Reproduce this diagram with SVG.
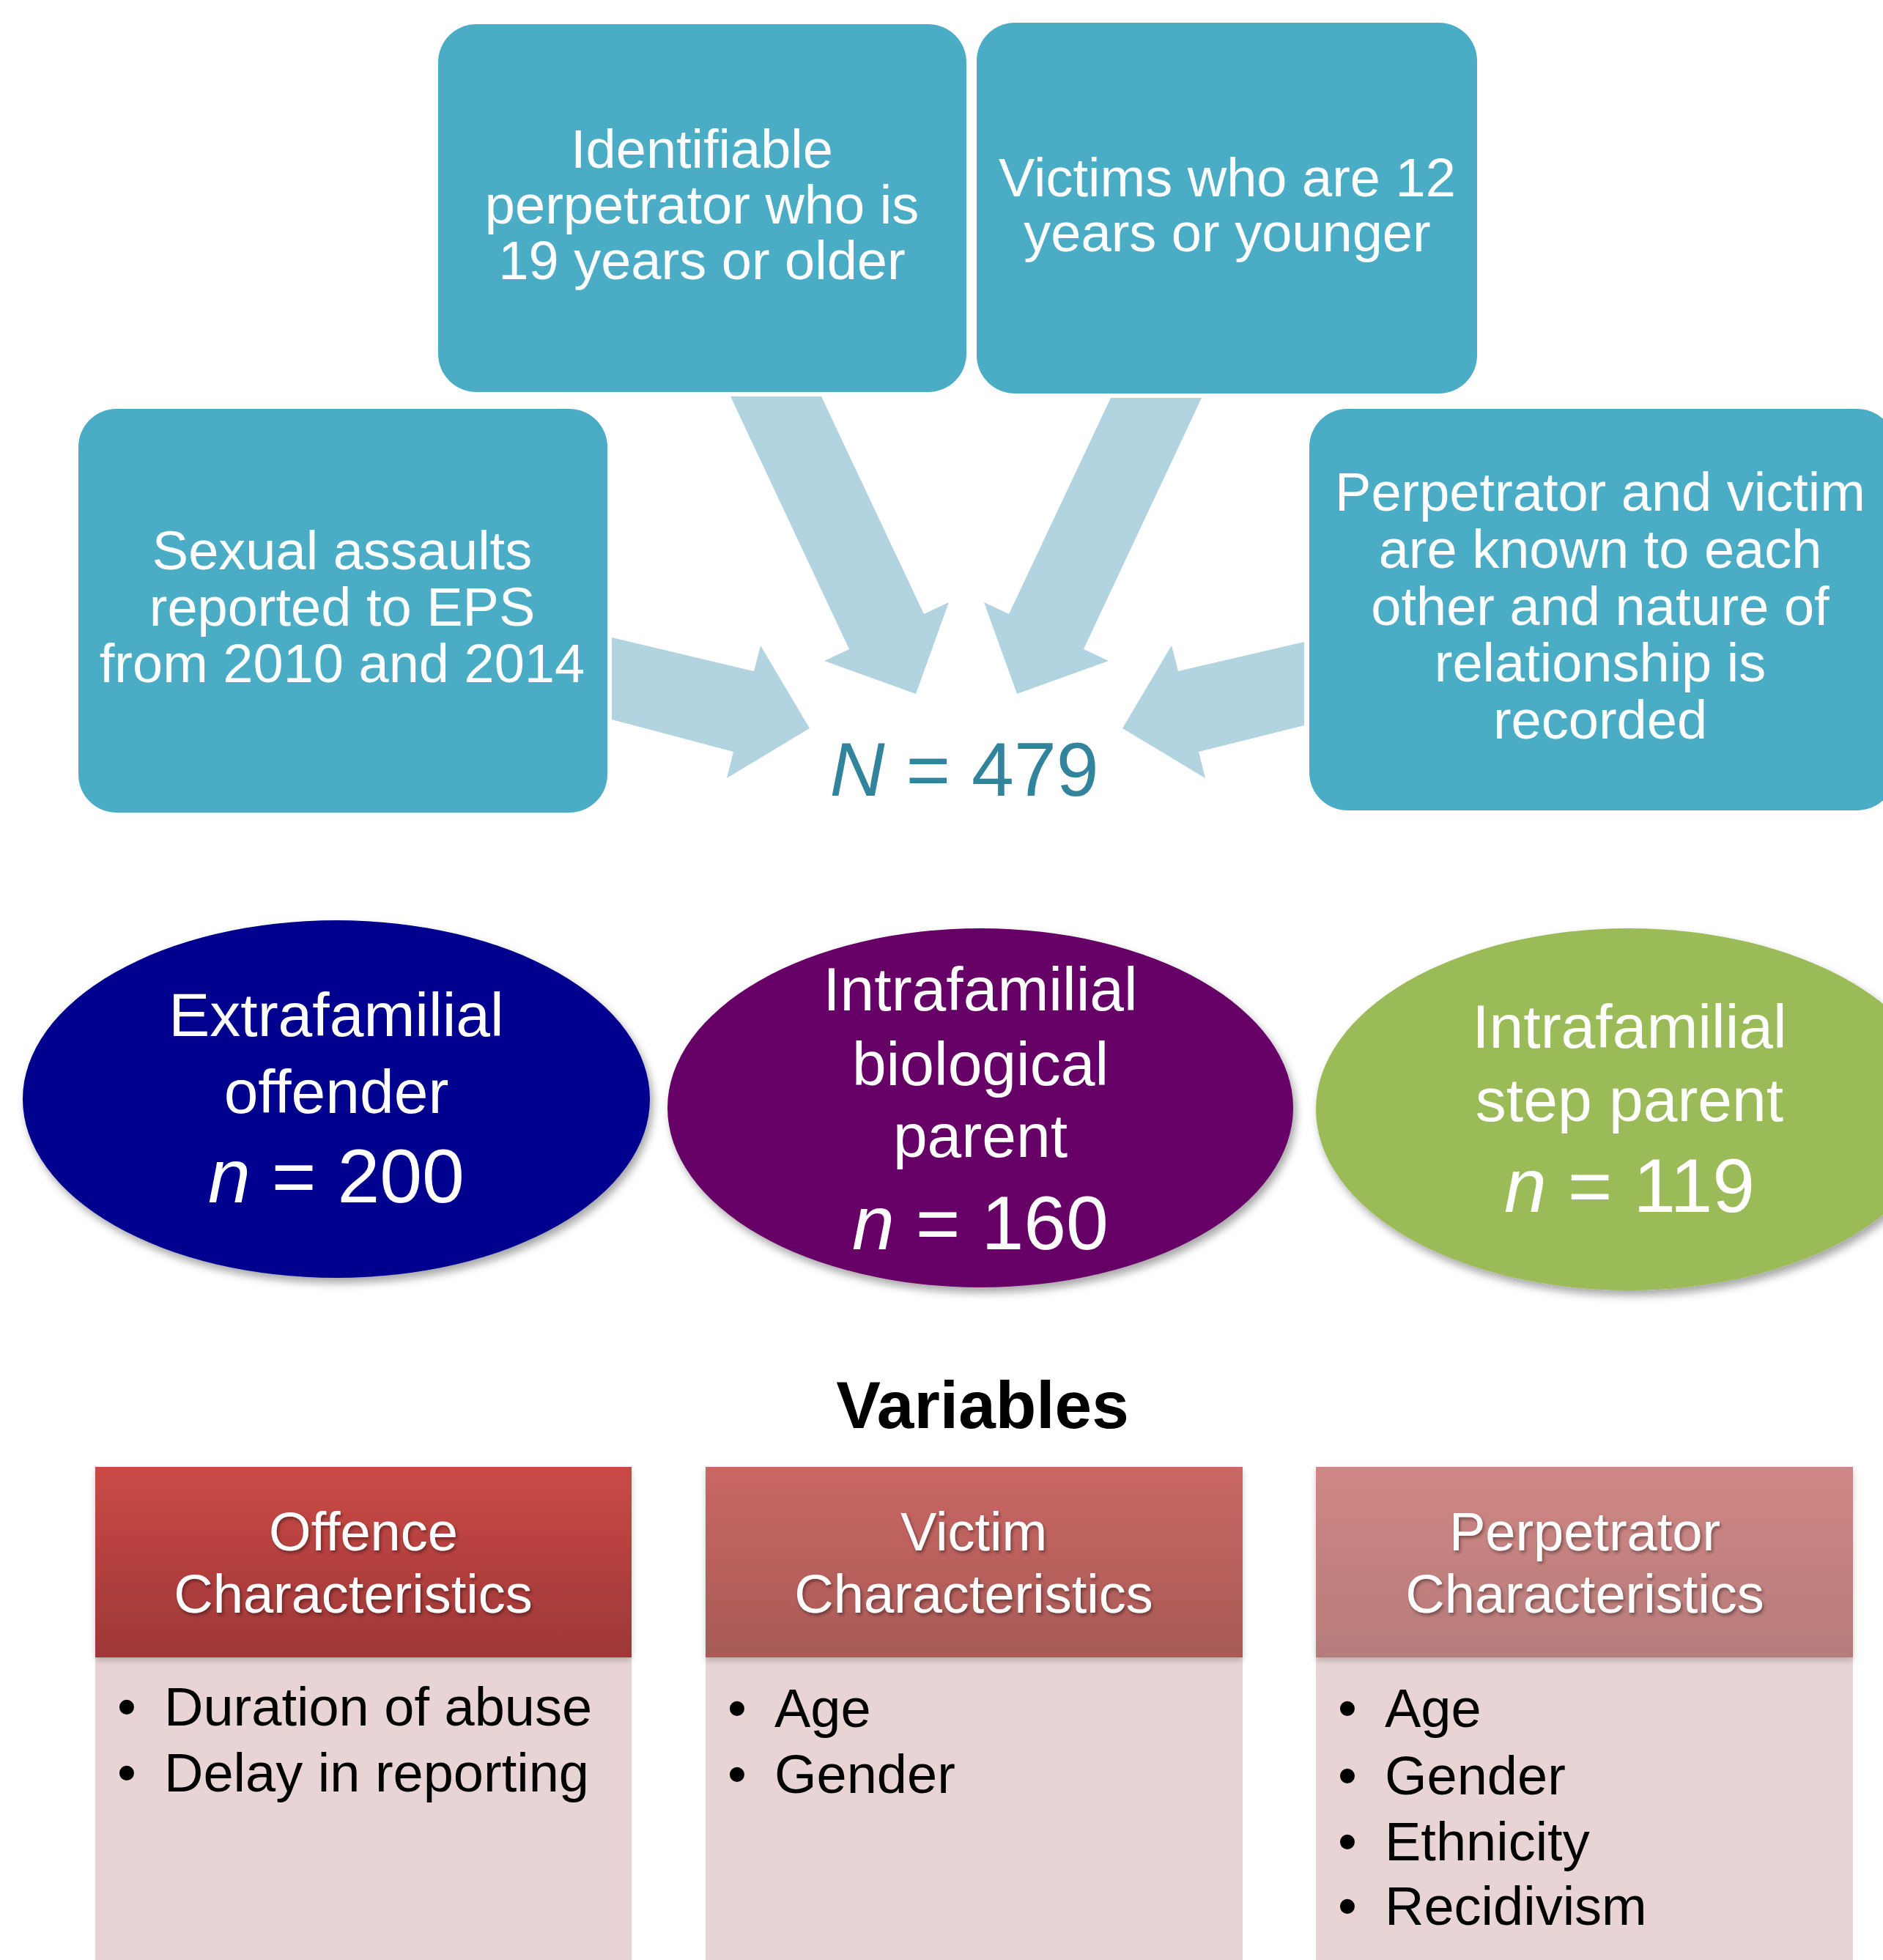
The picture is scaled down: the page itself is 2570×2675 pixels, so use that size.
<svg xmlns="http://www.w3.org/2000/svg" width="2570" height="2675" viewBox="0 0 2570 2675">
<defs>
<style>
.box{fill:#4BACC6}
.bt{font-family:"Liberation Sans",Arial,sans-serif;font-size:74px;fill:#fff;text-anchor:middle}
.arrow{fill:#B2D4E0}
.et{font-family:"Liberation Sans",Arial,sans-serif;font-size:84px;fill:#fff;text-anchor:middle}
.en{font-family:"Liberation Sans",Arial,sans-serif;font-size:104px;fill:#fff;text-anchor:middle}
.ht{font-family:"Liberation Sans",Arial,sans-serif;font-size:74px;fill:#fff;text-anchor:middle}
.li{font-family:"Liberation Sans",Arial,sans-serif;font-size:74px;fill:#000}
.body{fill:#E8D4D4}
</style>
<filter id="esh" x="-10%" y="-10%" width="125%" height="130%">
<feDropShadow dx="4" dy="7" stdDeviation="6" flood-color="#000" flood-opacity="0.35"/>
</filter>
<filter id="tsh" x="-5%" y="-20%" width="110%" height="150%">
<feDropShadow dx="2" dy="3" stdDeviation="2" flood-color="#000" flood-opacity="0.4"/>
</filter>
<filter id="hsh" x="-5%" y="-5%" width="110%" height="120%">
<feDropShadow dx="0" dy="4" stdDeviation="4" flood-color="#000" flood-opacity="0.2"/>
</filter>
<linearGradient id="gA" x1="0" y1="0" x2="0" y2="1"><stop offset="0" stop-color="#CA4A46"/><stop offset="1" stop-color="#9D3737"/></linearGradient>
<linearGradient id="gB" x1="0" y1="0" x2="0" y2="1"><stop offset="0" stop-color="#CA6763"/><stop offset="1" stop-color="#A85A57"/></linearGradient>
<linearGradient id="gC" x1="0" y1="0" x2="0" y2="1"><stop offset="0" stop-color="#D08785"/><stop offset="1" stop-color="#B67C7A"/></linearGradient>
</defs>
<rect width="2570" height="2675" fill="#fff"/>

<g id="connectors">
<polygon class="arrow" points="997,541 1121,541 1261,838 1295,822 1250,947 1125,902 1159,886"/>
<polygon class="arrow" points="1516,543 1640,543 1479,886 1513,902 1388,947 1343,822 1377,838"/>
<polygon class="arrow" points="835,870 1029,916 1038,881 1105,994 992,1062 1001,1026 835,982"/>
<polygon class="arrow" points="1780,876 1608,916 1599,881 1532,994 1645,1062 1636,1026 1780,990"/>
</g>

<g id="box-sexual-assaults">
<rect class="box" x="107" y="558" width="722" height="551" rx="52"/>
<text class="bt" x="467" y="777">Sexual assaults</text>
<text class="bt" x="467" y="854">reported to EPS</text>
<text class="bt" x="467" y="931">from 2010 and 2014</text>
</g>
<g id="box-identifiable">
<rect class="box" x="598" y="33" width="721" height="502" rx="52"/>
<text class="bt" x="958" y="229">Identifiable</text>
<text class="bt" x="958" y="305">perpetrator who is</text>
<text class="bt" x="958" y="381">19 years or older</text>
</g>
<g id="box-victims">
<rect class="box" x="1333" y="31" width="683" height="506" rx="52"/>
<text class="bt" x="1675" y="268">Victims who are 12</text>
<text class="bt" x="1675" y="343">years or younger</text>
</g>
<g id="box-known">
<rect class="box" x="1787" y="558" width="800" height="548" rx="52"/>
<text class="bt" x="2184" y="697">Perpetrator and victim</text>
<text class="bt" x="2184" y="775">are known to each</text>
<text class="bt" x="2184" y="853">other and nature of</text>
<text class="bt" x="2184" y="930">relationship is</text>
<text class="bt" x="2184" y="1008">recorded</text>
</g>

<g id="total">
<text x="1316" y="1086" font-family="Liberation Sans, Arial, sans-serif" font-size="104" fill="#31849B" text-anchor="middle"><tspan font-style="italic">N</tspan> = 479</text>
</g>

<g id="ellipse-extrafamilial">
<ellipse cx="459" cy="1500" rx="428" ry="244" fill="#00008E" filter="url(#esh)"/>
<text class="et" x="459" y="1414">Extrafamilial</text>
<text class="et" x="459" y="1519">offender</text>
<text class="en" x="459" y="1641"><tspan font-style="italic">n</tspan> = 200</text>
</g>
<g id="ellipse-biological">
<ellipse cx="1338" cy="1512" rx="427" ry="245" fill="#660066" filter="url(#esh)"/>
<text class="et" x="1338" y="1379">Intrafamilial</text>
<text class="et" x="1338" y="1481">biological</text>
<text class="et" x="1338" y="1579">parent</text>
<text class="en" x="1338" y="1705"><tspan font-style="italic">n</tspan> = 160</text>
</g>
<g id="ellipse-step">
<ellipse cx="2223" cy="1514" rx="427" ry="247" fill="#9BBB59" filter="url(#esh)"/>
<text class="et" x="2224" y="1430">Intrafamilial</text>
<text class="et" x="2224" y="1530">step parent</text>
<text class="en" x="2224" y="1654"><tspan font-style="italic">n</tspan> = 119</text>
</g>

<g id="title">
<text x="1341" y="1949" font-family="Liberation Sans, Arial, sans-serif" font-size="91" font-weight="bold" fill="#000" text-anchor="middle">Variables</text>
</g>

<g id="offence">
<rect class="body" x="130" y="2262" width="732" height="420"/>
<rect x="130" y="2002" width="732" height="260" fill="url(#gA)" filter="url(#hsh)"/>
<g filter="url(#tsh)">
<text class="ht" x="496" y="2116">Offence</text>
<text class="ht" x="482" y="2201">Characteristics</text>
</g>
<text class="li" x="160" y="2355">•</text><text class="li" x="224" y="2355">Duration of abuse</text>
<text class="li" x="160" y="2445">•</text><text class="li" x="224" y="2445">Delay in reporting</text>
</g>
<g id="victim">
<rect class="body" x="963" y="2262" width="733" height="420"/>
<rect x="963" y="2002" width="733" height="260" fill="url(#gB)" filter="url(#hsh)"/>
<g filter="url(#tsh)">
<text class="ht" x="1329" y="2116">Victim</text>
<text class="ht" x="1329" y="2201">Characteristics</text>
</g>
<text class="li" x="993" y="2357">•</text><text class="li" x="1057" y="2357">Age</text>
<text class="li" x="993" y="2447">•</text><text class="li" x="1057" y="2447">Gender</text>
</g>
<g id="perpetrator">
<rect class="body" x="1796" y="2262" width="733" height="420"/>
<rect x="1796" y="2002" width="733" height="260" fill="url(#gC)" filter="url(#hsh)"/>
<g filter="url(#tsh)">
<text class="ht" x="2163" y="2116">Perpetrator</text>
<text class="ht" x="2163" y="2201">Characteristics</text>
</g>
<text class="li" x="1826" y="2357">•</text><text class="li" x="1890" y="2357">Age</text>
<text class="li" x="1826" y="2449">•</text><text class="li" x="1890" y="2449">Gender</text>
<text class="li" x="1826" y="2539">•</text><text class="li" x="1890" y="2539">Ethnicity</text>
<text class="li" x="1826" y="2627">•</text><text class="li" x="1890" y="2627">Recidivism</text>
</g>
</svg>
